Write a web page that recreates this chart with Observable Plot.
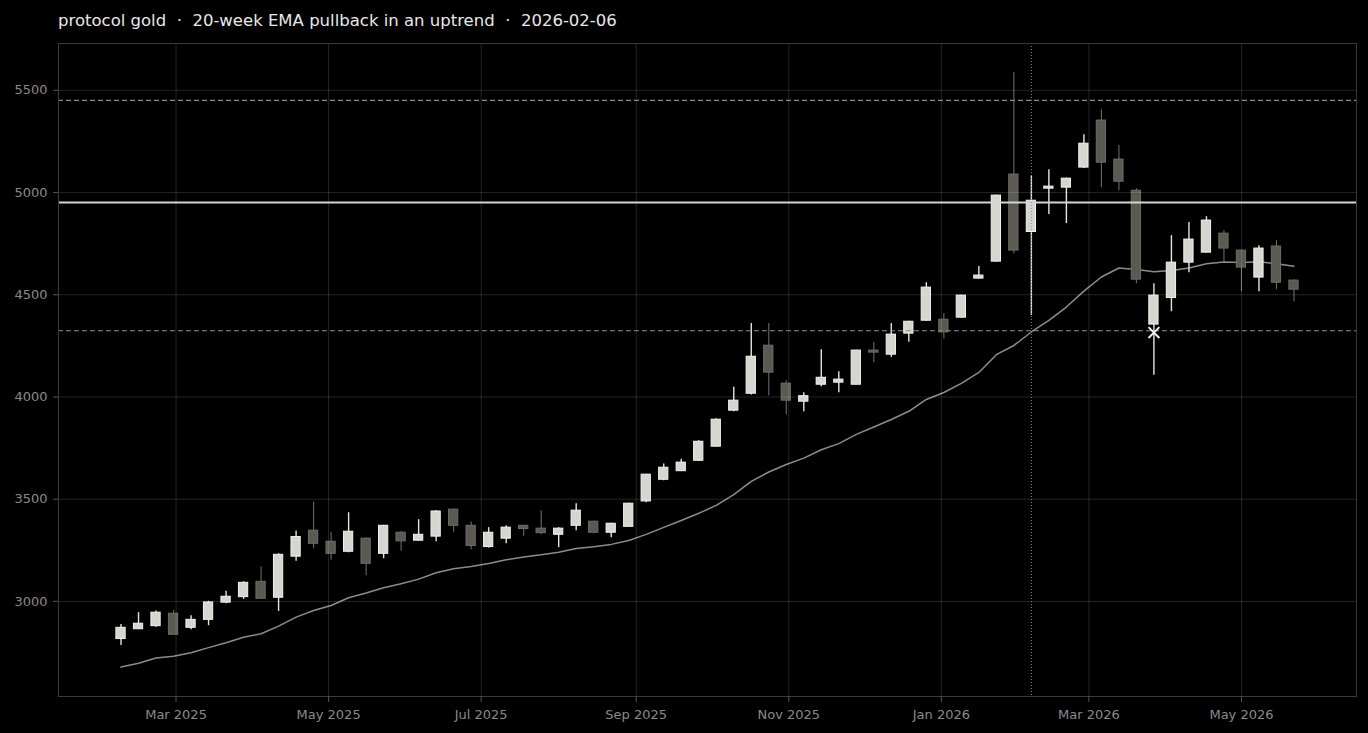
<!DOCTYPE html>
<html>
<head>
<meta charset="utf-8">
<script src="https://cdn.jsdelivr.net/npm/d3@7"></script>
<script src="https://cdn.jsdelivr.net/npm/@observablehq/plot@0.6"></script>
<style>
html, body { margin: 0; padding: 0; background: #000; overflow: hidden; }
#title { box-sizing: border-box; height: 36px; padding: 12px 0 0 58px; line-height: 18px;
  font-family: "DejaVu Sans", sans-serif; font-size: 16.5px; color: #e8e8e8; white-space: pre; }
</style>
</head>
<body>
<div id="title"></div>
<div id="chart"></div>
<script>
const titleText = "protocol gold  \u00b7  20-week EMA pullback in an uptrend  \u00b7  2026-02-06";

const dates = [
  "2025-02-07","2025-02-14","2025-02-21","2025-02-28","2025-03-07","2025-03-14","2025-03-21","2025-03-28",
  "2025-04-04","2025-04-11","2025-04-18","2025-04-25","2025-05-02","2025-05-09","2025-05-16","2025-05-23",
  "2025-05-30","2025-06-06","2025-06-13","2025-06-20","2025-06-27","2025-07-04","2025-07-11","2025-07-18",
  "2025-07-25","2025-08-01","2025-08-08","2025-08-15","2025-08-22","2025-08-29","2025-09-05","2025-09-12",
  "2025-09-19","2025-09-26","2025-10-03","2025-10-10","2025-10-17","2025-10-24","2025-10-31","2025-11-07",
  "2025-11-14","2025-11-21","2025-11-28","2025-12-05","2025-12-12","2025-12-19","2025-12-26","2026-01-02",
  "2026-01-09","2026-01-16","2026-01-23","2026-01-30","2026-02-06","2026-02-13","2026-02-20","2026-02-27",
  "2026-03-06","2026-03-13","2026-03-20","2026-03-27","2026-04-03","2026-04-10","2026-04-17","2026-04-24",
  "2026-05-01","2026-05-08","2026-05-15","2026-05-22"
];
const openP = [
  2816,2864,2879,2940,2871,2910,2994,3021,3096,3018,3219,3346,3292,3243,3307,3233,
  3336,3297,3317,3449,3370,3266,3307,3370,3356,3326,3370,3390,3336,3365,3489,3595,
  3637,3688,3757,3933,4016,4251,4065,3977,4060,4070,4060,4227,4207,4310,4373,4378,
  4388,4579,4662,5088,4807,5019,5024,5122,5352,5161,5009,4354,4484,4657,4706,4799,
  4716,4584,4736,4569
];
const highP = [
  2887,2945,2953,2956,2930,3001,3050,3096,3168,3233,3344,3486,3339,3434,3310,3372,
  3342,3400,3444,3452,3388,3361,3370,3372,3444,3361,3478,3392,3382,3480,3622,3672,
  3696,3786,3894,4048,4359,4359,4080,4021,4231,4124,4229,4266,4359,4370,4559,4408,
  4498,4638,4987,5587,5081,5112,5070,5283,5405,5230,5019,4554,4789,4853,4882,4814,
  4718,4740,4765,4574
];
const lowP = [
  2785,2862,2874,2837,2862,2881,2989,3010,3013,2951,3196,3258,3201,3238,3126,3209,
  3245,3295,3292,3339,3253,3261,3282,3317,3326,3263,3346,3331,3312,3363,3483,3590,
  3635,3686,3755,3928,4010,4006,3913,3928,4050,4021,4058,4168,4194,4268,4371,4285,
  4386,4577,4660,4701,4399,4892,4848,5117,5024,5009,4554,4106,4417,4608,4704,4657,
  4515,4515,4525,4466
];
const closeP = [
  2871,2891,2945,2837,2910,2995,3023,3091,3013,3228,3315,3282,3233,3341,3184,3370,
  3294,3326,3440,3370,3271,3336,3361,3354,3334,3356,3444,3336,3380,3478,3620,3654,
  3679,3781,3889,3982,4197,4119,3982,4004,4094,4085,4227,4217,4305,4368,4535,4316,
  4496,4594,4985,4716,4960,5029,5068,5239,5146,5053,4574,4496,4657,4770,4863,4726,
  4633,4726,4559,4525
];
const ema20 = [
  2679,2698,2723,2732,2749,2774,2798,2825,2842,2879,2923,2956,2980,3018,3041,3067,
  3087,3109,3140,3160,3171,3186,3204,3217,3228,3241,3259,3268,3279,3298,3328,3362,
  3396,3431,3470,3522,3587,3633,3670,3701,3742,3772,3817,3853,3890,3930,3988,4022,
  4067,4120,4207,4252,4318,4375,4440,4518,4587,4631,4623,4613,4619,4631,4652,4660,
  4658,4662,4652,4640
];

const levelSolid = [4951];
const levelDashed = [5451, 4324];
const eventDate = ["2026-02-06"];
const signalDate = ["2026-03-27"];
const signalPrice = [4315];

const yTicks = [3000, 3500, 4000, 4500, 5000, 5500];
const xTickDates = ["2025-03-01","2025-05-01","2025-07-01","2025-09-01","2025-11-01","2026-01-01","2026-03-01","2026-05-01"];
const xDomain = ["2025-01-13", "2026-06-16"];
const yDomain = [2535, 5729];

document.getElementById("title").textContent = titleText;

const data = dates.map((d, i) => ({
  date: new Date(d), open: openP[i], high: highP[i], low: lowP[i], close: closeP[i], ema: ema20[i],
  up: closeP[i] >= openP[i]
}));
const DAY = 86400000;
const half = 1.85 * DAY;
const xTicks = xTickDates.map(d => new Date(d));
const signal = signalDate.map((d, i) => ({date: new Date(d), price: signalPrice[i]}));

const chart = Plot.plot({
  width: 1368,
  height: 697,
  marginTop: 7,
  marginBottom: 37,
  marginLeft: 58,
  marginRight: 12,
  style: {background: "#000", color: "#8a8a8a", fontFamily: "DejaVu Sans, sans-serif", fontSize: "13px"},
  x: {type: "utc", domain: xDomain.map(d => new Date(d)), label: null},
  y: {domain: yDomain, label: null},
  marks: [
    Plot.line(data, {x: "date", y: "ema", stroke: "#8c8c8c", strokeWidth: 1.5}),
    Plot.ruleX(data, {x: "date", y1: "low", y2: "high",
      stroke: d => d.up ? "#e4e4e0" : "#6a6a64", strokeWidth: d => d.up ? 1.4 : 1.1}),
    Plot.rect(data, {
      x1: d => new Date(+d.date - half), x2: d => new Date(+d.date + half),
      y1: "open", y2: "close",
      fill: d => d.up ? "#d6d6d0" : "#5a5a52",
      stroke: d => d.up ? "#f2f2ee" : "#6e6e66", strokeWidth: 1
    }),
    Plot.gridY(yTicks, {stroke: "#fff", strokeOpacity: 0.14}),
    Plot.gridX(xTicks, {stroke: "#fff", strokeOpacity: 0.14}),
    Plot.ruleY(levelDashed, {stroke: "#8c8c8c", strokeWidth: 1.2, strokeDasharray: "5,3"}),
    Plot.ruleY(levelSolid, {stroke: "#d4d4d4", strokeWidth: 2}),
    Plot.ruleX(eventDate.map(d => new Date(d)), {stroke: "#8c8c8c", strokeWidth: 1, strokeDasharray: "1,2"}),
    Plot.dot(signal, {x: "date", y: "price", symbol: "times", r: 5, stroke: "#f0f0f0", strokeWidth: 2}),
    Plot.frame({stroke: "#3a3a3a"}),
    Plot.axisY({ticks: yTicks, tickSize: 5, tickPadding: 6, tickFormat: d => String(d), stroke: "#555", label: null}),
    Plot.axisX({ticks: xTicks, tickSize: 6, tickPadding: 7, tickFormat: d3.utcFormat("%b %Y"), stroke: "#555", label: null})
  ]
});
document.getElementById("chart").appendChild(chart);
</script>
</body>
</html>
